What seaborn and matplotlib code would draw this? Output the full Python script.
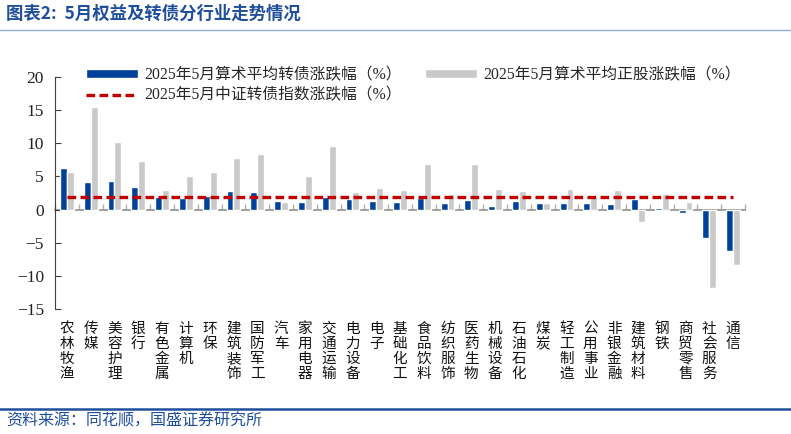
import matplotlib
matplotlib.use('Agg')
import matplotlib.pyplot as plt
import seaborn as sns
import pandas as pd
from matplotlib.lines import Line2D
from matplotlib.patches import Patch

industries = ['农林牧渔', '传媒', '美容护理', '银行', '有色金属', '计算机', '环保', '建筑装饰',
              '国防军工', '汽车', '家用电器', '交通运输', '电力设备', '电子', '基础化工', '食品饮料',
              '纺织服饰', '医药生物', '机械设备', '石油石化', '煤炭', '轻工制造', '公用事业', '非银金融',
              '建筑材料', '钢铁', '商贸零售', '社会服务', '通信']
cb_change = [6.3, 4.2, 4.35, 3.45, 1.9, 1.8, 2.1, 2.85, 2.7, 1.35, 1.2, 1.95, 1.65, 1.35, 1.2,
             1.8, 1.05, 1.5, 0.6, 1.35, 1.05, 1.05, 1.05, 0.9, 1.65, 0.3, -0.45, -4.35, -6.3]
stock_change = [5.7, 15.4, 10.2, 7.4, 3.0, 5.0, 5.6, 7.8, 8.4, 1.2, 5.0, 9.6, 2.7, 3.3, 3.0,
                6.9, 2.4, 6.9, 3.15, 2.85, 1.0, 3.15, 1.95, 3.0, -1.8, 2.4, 1.2, -11.9, -8.3]
index_change = 1.85

series_cb = '2025年5月算术平均转债涨跌幅（%）'
series_stock = '2025年5月算术平均正股涨跌幅（%）'
series_index = '2025年5月中证转债指数涨跌幅（%）'
title = '图表2:  5月权益及转债分行业走势情况'
source = '资料来源：同花顺，国盛证券研究所'
yticks = [20, 15, 10, 5, 0, -5, -10, -15]

BLUE = '#00419A'
GRAY = '#C9C9C9'
RED = '#C00000'
TXTBLUE = '#1F4E9A'

sns.set_theme(style='white')
plt.rcParams['font.family'] = ['Liberation Serif', 'Noto Sans CJK SC', 'DejaVu Sans']
plt.rcParams['axes.unicode_minus'] = True

n = len(industries)
df = pd.DataFrame({
    'industry': industries * 2,
    'value': cb_change + stock_change,
    'series': [series_cb] * n + [series_stock] * n,
})

fig = plt.figure(figsize=(7.91, 4.34), dpi=100)
ax = fig.add_axes([55 / 791, 1 - 309 / 434, 690 / 791, 232 / 434])
sns.barplot(data=df, x='industry', y='value', hue='series', palette=[BLUE, GRAY],
            width=0.58, saturation=1, legend=False, ax=ax)
ax.hlines(index_change, 0, n - 1, colors=RED, linewidth=2.4, linestyles=(0, (2.6, 1.3)), zorder=5)

ax.set_xlim(-0.5, n - 0.5)
ax.set_ylim(-15, 20)
ax.set_yticks(yticks)
ax.set_xlabel('')
ax.set_ylabel('')
ax.tick_params(axis='y', direction='in', length=4, width=0.8, color='#404040', pad=8,
               labelsize=12.5, labelcolor='#222222', left=True)
ax.set_xticks(range(n))
ax.set_xticklabels(['\n'.join(s) for s in industries], fontsize=10.5, linespacing=1.1,
                   va='top', family=['Noto Sans CJK SC'], color='#111111')
ax.tick_params(axis='x', length=0, pad=9)
for s in ['top', 'right', 'bottom']:
    ax.spines[s].set_visible(False)
ax.spines['left'].set_color('#404040')
ax.spines['left'].set_linewidth(0.8)

# zero line with category-boundary ticks
sec = ax.secondary_xaxis(15 / 35)
bounds = [i - 0.5 for i in range(n + 1)]
sec.set_xticks(bounds, labels=[''] * len(bounds))
sec.tick_params(direction='in', length=4, width=1, color='#B0B0B0')
sec.spines['bottom'].set_color('#999999')
sec.spines['bottom'].set_linewidth(1.3)

handles = [Patch(facecolor=BLUE),
           Line2D([], [], color=RED, linewidth=2.4, linestyle=(0, (2.6, 1.3))),
           Patch(facecolor=GRAY)]
labels = [series_cb, series_index, series_stock]
fig.legend(handles, labels, ncol=2, loc='upper left', bbox_to_anchor=(86 / 791, 1 - 67 / 434),
           frameon=False, fontsize=11.3, handlelength=3.3, handleheight=0.45, handletextpad=0.4,
           columnspacing=1.5, labelspacing=0.3, borderpad=0, borderaxespad=0)

fig.text(6 / 791, 1 - 14 / 434, title, color=TXTBLUE, fontsize=12.5, va='center', ha='left',
         family=['Noto Sans CJK SC'], weight='bold')
fig.add_artist(Line2D([0, 1], [1 - 30 / 434] * 2, transform=fig.transFigure, color='#8EA9DB', lw=1))
fig.add_artist(Line2D([0, 1], [1 - 409 / 434] * 2, transform=fig.transFigure, color=TXTBLUE, lw=1.8))
fig.text(6 / 791, 1 - 421 / 434, source, color=TXTBLUE, fontsize=11.5, va='center', ha='left',
         family=['Noto Sans CJK SC'])

fig.savefig('out.png', dpi=100)
